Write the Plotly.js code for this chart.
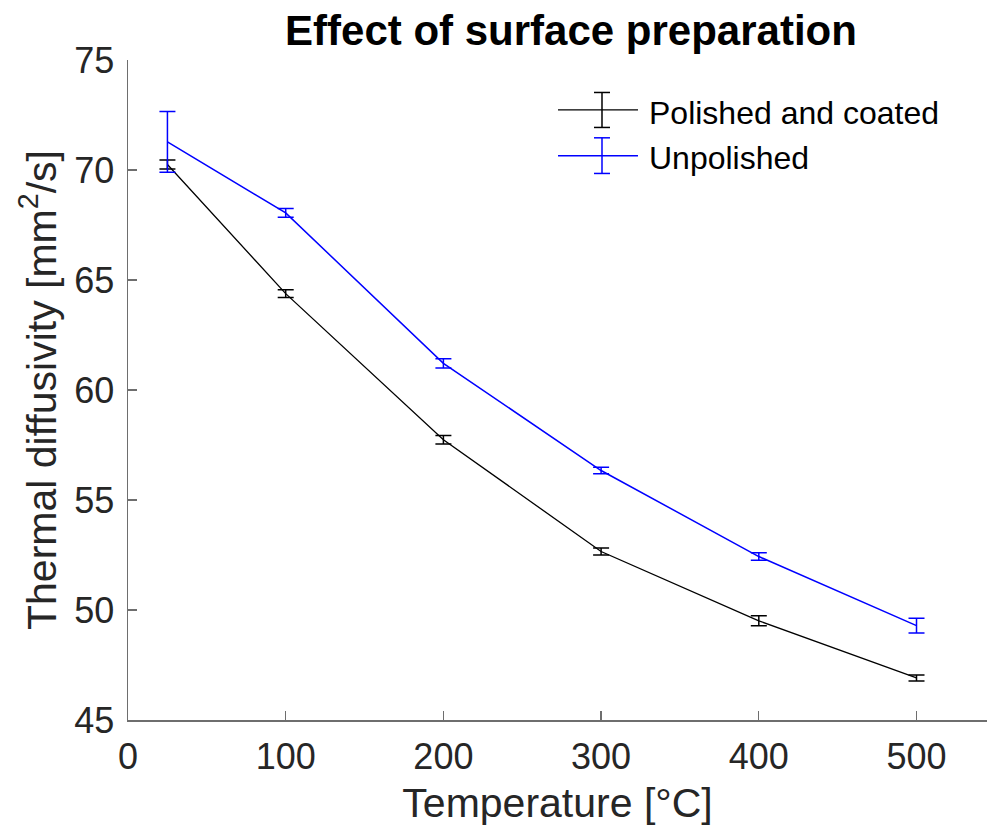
<!DOCTYPE html>
<html>
<head>
<meta charset="utf-8">
<script src="https://cdn.plot.ly/plotly-3.0.1.min.js"></script>
<style>html,body{margin:0;padding:0;background:#fff;}#chart{width:987px;height:836px;}</style>
</head>
<body>
<div id="chart"></div>
<script>
// Data
const temperature = [25, 100, 200, 300, 400, 500];
const polishedMean = [70.25, 64.38, 57.74, 52.66, 49.51, 46.91];
const polishedErr  = [0.20, 0.18, 0.19, 0.16, 0.23, 0.14];
const unpolishedMean = [71.28, 68.05, 61.21, 56.34, 52.43, 49.29];
const unpolishedErr  = [1.38, 0.20, 0.21, 0.15, 0.17, 0.34];
const seriesNames = ["Polished and coated", "Unpolished"];
const seriesColors = ["#000000", "#0000ff"];
const xTicks = [0, 100, 200, 300, 400, 500];
const yTicks = [45, 50, 55, 60, 65, 70, 75];

const FONT = "Liberation Sans, Arial, Helvetica, sans-serif";

const traces = [
  {
    x: temperature, y: polishedMean, name: seriesNames[0],
    type: "scatter", mode: "lines", showlegend: false,
    line: {color: seriesColors[0], width: 1.3},
    error_y: {type: "data", array: polishedErr, visible: true, color: seriesColors[0], thickness: 1.5, width: 8}
  },
  {
    x: temperature, y: unpolishedMean, name: seriesNames[1],
    type: "scatter", mode: "lines", showlegend: false,
    line: {color: seriesColors[1], width: 1.5},
    error_y: {type: "data", array: unpolishedErr, visible: true, color: seriesColors[1], thickness: 1.5, width: 8}
  }
];

// Legend (MATLAB-style: line with error-bar glyph + label), placed in paper coordinates
const legendRows = [0.9243, 0.8551];
function legendIcon(color, lw, yc, half) {
  return [
    {type: "line", xref: "paper", yref: "paper", x0: 0.5006, x1: 0.5937, y0: yc, y1: yc, line: {color: color, width: lw}},
    {type: "line", xref: "paper", yref: "paper", x0: 0.5518, x1: 0.5518, y0: yc - half, y1: yc + half, line: {color: color, width: 1.5}},
    {type: "line", xref: "paper", yref: "paper", x0: 0.5425, x1: 0.5611, y0: yc + half, y1: yc + half, line: {color: color, width: 1.5}},
    {type: "line", xref: "paper", yref: "paper", x0: 0.5425, x1: 0.5611, y0: yc - half, y1: yc - half, line: {color: color, width: 1.5}}
  ];
}
const legendShapes = legendIcon(seriesColors[0], 1.3, legendRows[0], 0.0265)
  .concat(legendIcon(seriesColors[1], 1.5, legendRows[1], 0.0270));
const legendLabels = seriesNames.map((name, i) => ({
  xref: "paper", yref: "paper", x: 0.6042, y: legendRows[i] - 0.004,
  xanchor: "left", yanchor: "middle", showarrow: false,
  text: name, font: {family: FONT, size: 32, color: "#000000"}
}));

const layout = {
  width: 987, height: 836,
  margin: {l: 128, r: 0, t: 60, b: 115.5, pad: 0},
  paper_bgcolor: "#ffffff", plot_bgcolor: "#ffffff",
  font: {family: FONT, color: "#262626"},
  title: {
    text: "<b>Effect of surface preparation</b>",
    font: {family: FONT, size: 42, color: "#000000"},
    xref: "container", x: 0.5785, xanchor: "center",
    yref: "container", y: 0.964, yanchor: "middle"
  },
  xaxis: {
    range: [0, 544.7], tickvals: xTicks, ticktext: xTicks.map(String),
    ticks: "inside", ticklen: 9, tickwidth: 1.3, tickcolor: "#6e6e6e",
    showline: true, linecolor: "#6e6e6e", linewidth: 1.5,
    showgrid: false, zeroline: false, mirror: false,
    tickfont: {family: FONT, size: 36, color: "#262626"},
    ticklabelstandoff: 4,
    title: {text: "Temperature [°C]", font: {family: FONT, size: 41, color: "#262626"}, standoff: 12}
  },
  yaxis: {
    range: [45, 75], tickvals: yTicks, ticktext: yTicks.map(String),
    ticks: "inside", ticklen: 9, tickwidth: 1.3, tickcolor: "#6e6e6e",
    showline: true, linecolor: "#6e6e6e", linewidth: 1.5,
    showgrid: false, zeroline: false, mirror: false,
    tickfont: {family: FONT, size: 36, color: "#262626"},
    ticklabelstandoff: 5,
    title: {text: "Thermal diffusivity [mm<sup>2</sup>/s]", font: {family: FONT, size: 41, color: "#262626"}, standoff: 5}
  },
  showlegend: false,
  shapes: legendShapes,
  annotations: legendLabels
};

Plotly.newPlot("chart", traces, layout, {displayModeBar: false, staticPlot: true});
</script>
</body>
</html>
